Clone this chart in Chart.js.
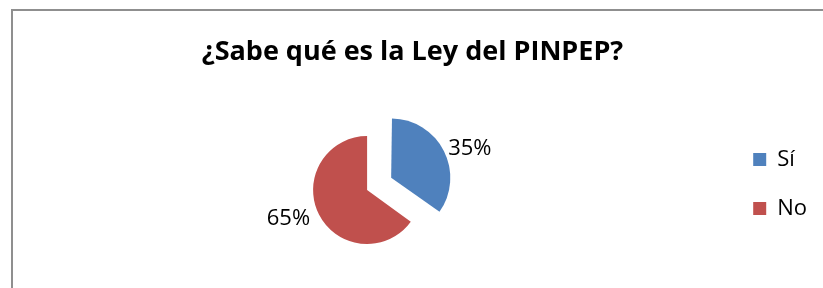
<!DOCTYPE html>
<html>
<head>
<meta charset="utf-8">
<script src="https://cdn.jsdelivr.net/npm/chart.js@4.4.0/dist/chart.umd.min.js"></script>
<style>
  html, body { margin: 0; padding: 0; background: #fff; overflow: hidden; }
  #wrap { position: relative; width: 823px; height: 288px; }
  #frame { position: absolute; left: 11px; top: 9px; width: 900px; height: 400px; border: 2px solid #8f8f8f; box-sizing: border-box; }
  canvas { position: absolute; left: 0; top: 0; }
</style>
</head>
<body>
<div id="wrap">
  <div id="frame"></div>
  <canvas id="pieChart" width="823" height="288"></canvas>
</div>
<script>
// datos del gráfico
const chartTitle = '¿Sabe qué es la Ley del PINPEP?';
const categories = ['Sí', 'No'];
const percentValues = [35, 65];
const sliceColors = ['#4F81BD', '#C0504D'];

// etiquetas de porcentaje fuera de cada sector
const percentLabels = {
    id: 'percentLabels',
    afterDatasetsDraw(chart) {
        const ctx = chart.ctx;
        const meta = chart.getDatasetMeta(0);
        ctx.save();
        ctx.font = '22px "Open Sans"';
        ctx.fillStyle = '#000';
        ctx.textAlign = 'center';
        ctx.textBaseline = 'middle';
        meta.data.forEach((arc, i) => {
            const p = arc.getProps(['x', 'y', 'startAngle', 'endAngle', 'outerRadius'], true);
            const mid = (p.startAngle + p.endAngle) / 2;
            // Chart.js desplaza el sector offset/4 px
            const dist = p.outerRadius + (arc.options.offset || 0) / 4 + 10;
            const text = percentValues[i] + '%';
            const half = ctx.measureText(text).width / 2;
            const lx = p.x + Math.cos(mid) * dist + (Math.cos(mid) >= 0 ? half : -half);
            const ly = p.y + Math.sin(mid) * dist;
            ctx.fillText(text, lx, ly);
        });
        ctx.restore();
    }
};

new Chart(document.getElementById('pieChart'), {
    type: 'pie',
    data: {
        labels: categories,
        datasets: [{
            data: percentValues,
            backgroundColor: sliceColors,
            borderWidth: 0,
            offset: [108, 0],
            radius: 54
        }]
    },
    options: {
        responsive: false,
        animation: false,
        devicePixelRatio: 1,
        layout: { padding: { left: 8, right: 6, top: 0, bottom: 0 } },
        plugins: {
            title: {
                display: true,
                text: chartTitle,
                color: '#000',
                font: { family: 'Open Sans', size: 27, weight: 'bold' },
                padding: { top: 36, bottom: 23.6 }
            },
            legend: {
                position: 'right',
                align: 'start',
                fullSize: false,
                // título vacío solo para bajar las entradas
                title: { display: true, text: '', font: { size: 12 }, padding: { top: 0, bottom: 15 } },
                labels: {
                    boxWidth: 13,
                    boxHeight: 13,
                    padding: 27,
                    color: '#000',
                    font: { family: 'Open Sans', size: 22 }
                }
            },
            tooltip: { enabled: false }
        }
    },
    plugins: [percentLabels]
});
</script>
</body>
</html>
